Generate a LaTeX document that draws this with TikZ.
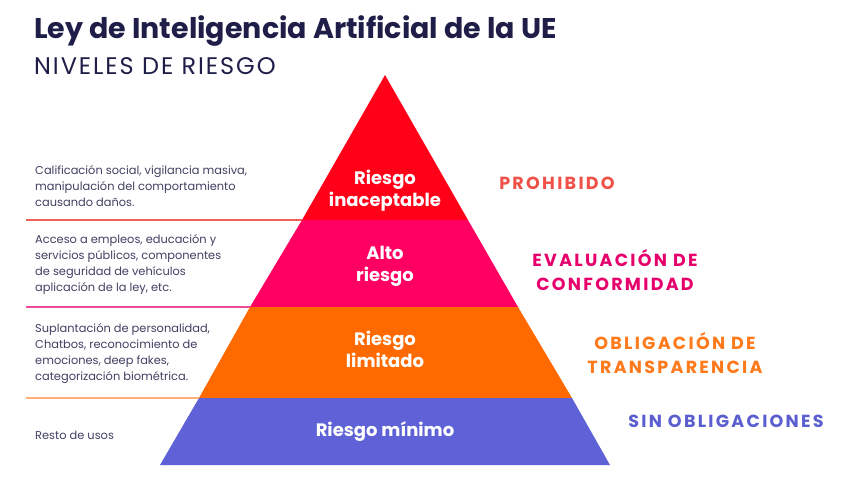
\documentclass[tikz,border=0pt]{standalone}
\usepackage{fontspec}
\setmainfont{Poppins}
\newfontfamily\spaced[LetterSpace=13]{Poppins}
\begin{document}
\definecolor{cRed}{HTML}{FF0018}
\definecolor{cMag}{HTML}{FF0062}
\definecolor{cOra}{HTML}{FF6A00}
\definecolor{cBlu}{HTML}{5F62D6}
\definecolor{tRed}{HTML}{EF5048}
\definecolor{tMag}{HTML}{E6006C}
\definecolor{tOra}{HTML}{FF7A1A}
\definecolor{tBlu}{HTML}{5B5ECF}
\definecolor{navy}{HTML}{1E1E48}
\begin{tikzpicture}[x=1pt,y=-1pt,
  desc/.style={anchor=west,align=left,font=\fontsize{11.4}{16}\selectfont,text=navy!85,inner sep=0},
  lvl/.style={align=center,font=\fontsize{18}{22}\selectfont\bfseries,text=white,inner sep=0},
  obl/.style={align=center,font=\fontsize{17.5}{24}\selectfont\spaced\bfseries,inner sep=0},
  sep/.style={line width=1.3pt}]
\useasboundingbox (0,0) rectangle (850,486);
\fill[white] (0,0) rectangle (850,486);
% pyramid layers
\fill[cRed] (385,75) -- (468,220) -- (302,220) -- cycle;
\fill[cMag] (302,220) -- (468,220) -- (518,307) -- (250,307) -- cycle;
\fill[cOra] (250,307) -- (518,307) -- (572,398) -- (199,398) -- cycle;
\fill[cBlu] (199,398) -- (572,398) -- (610,465) -- (160,465) -- cycle;
% separators
\coordinate (s1a) at (26,220); \coordinate (s1b) at (302,220);
\coordinate (s2a) at (26,307); \coordinate (s2b) at (250,307);
\coordinate (s3a) at (26,398); \coordinate (s3b) at (199,398);
\draw[sep,color=tRed!90] (s1a) -- (s1b);
\draw[sep,color=tMag!70] (s2a) -- (s2b);
\draw[sep,color=tOra!60] (s3a) -- (s3b);
% title
\node[anchor=west,inner sep=0,font=\fontsize{28.5}{30}\selectfont\bfseries,text=navy] (title) at (34,31) {Ley de Inteligencia Artificial de la UE};
\node[anchor=west,inner sep=0,font=\fontsize{24}{26}\selectfont\addfontfeature{LetterSpace=8},text=navy] (sub) at (34,66) {NIVELES DE RIESGO};
% descriptions
\node[desc] (d1) at (35,186) {Calificación social, vigilancia masiva,\\manipulación del comportamiento\\causando daños.};
\node[desc] (d2) at (35,264) {Acceso a empleos, educación y\\servicios públicos, componentes\\de seguridad de vehículos\\aplicación de la ley, etc.};
\node[desc] (d3) at (35,354) {Suplantación de personalidad,\\Chatbos, reconocimiento de\\emociones, deep fakes,\\categorización biométrica.};
\node[desc] (d4) at (35,435) {Resto de usos};
% level labels
\node[lvl] (l1) at (385,191) {Riesgo\\inaceptable};
\node[lvl] (l2) at (385,266) {Alto\\riesgo};
\node[lvl] (l3) at (385,349) {Riesgo\\limitado};
\node[lvl] (l4) at (385,432) {Riesgo mínimo};
% obligations
\node[obl,text=tRed] (o1) at (557,183) {PROHIBIDO};
\node[obl,text=tMag] (o2) at (615,270) {EVALUACIÓN DE\\CONFORMIDAD};
\node[obl,text=tOra] (o3) at (675,353) {OBLIGACIÓN DE\\TRANSPARENCIA};
\node[obl,text=tBlu] (o4) at (726,421) {SIN OBLIGACIONES};
\end{tikzpicture}
\end{document}
